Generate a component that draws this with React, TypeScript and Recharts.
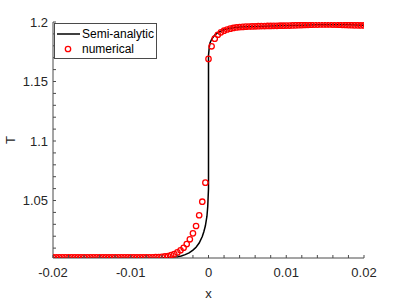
import React from 'react';
import { ComposedChart, Line, Scatter, XAxis, YAxis, Legend, Label } from 'recharts';

// numerical solution (red circles)
const numX = [
  -0.02, -0.0196, -0.0192, -0.0188, -0.0184, -0.018, -0.0176, -0.0172, -0.0168, -0.0164,
  -0.016, -0.0156, -0.0152, -0.0148, -0.0144, -0.014, -0.0136, -0.0132, -0.0128, -0.0124,
  -0.012, -0.0116, -0.0112, -0.0108, -0.0104, -0.01, -0.0096, -0.0092, -0.0088, -0.0084,
  -0.008, -0.0076, -0.0072, -0.0068, -0.0064, -0.006, -0.0056, -0.0052, -0.0048, -0.0044,
  -0.004, -0.0036, -0.0032, -0.0028, -0.0024, -0.002, -0.0016, -0.0012, -0.0008, -0.0004,
  0,
  0.0004, 0.0008, 0.0012, 0.0016, 0.002, 0.0024, 0.0028, 0.0032, 0.0036, 0.004,
  0.0044, 0.0048, 0.0052, 0.0056, 0.006, 0.0064, 0.0068, 0.0072, 0.0076, 0.008,
  0.0084, 0.0088, 0.0092, 0.0096, 0.01, 0.0104, 0.0108, 0.0112, 0.0116, 0.012,
  0.0124, 0.0128, 0.0132, 0.0136, 0.014, 0.0144, 0.0148, 0.0152, 0.0156, 0.016,
  0.0164, 0.0168, 0.0172, 0.0176, 0.018, 0.0184, 0.0188, 0.0192, 0.0196, 0.02,
];
const numT = [
  1.0022, 1.0022, 1.0022, 1.0022, 1.0022, 1.0022, 1.0022, 1.0022, 1.0022, 1.0022,
  1.0022, 1.0022, 1.0022, 1.0022, 1.0022, 1.0022, 1.0022, 1.0022, 1.0022, 1.0022,
  1.0022, 1.0022, 1.0022, 1.0022, 1.0022, 1.0022, 1.0022, 1.0022, 1.0022, 1.0023,
  1.0023, 1.0023, 1.0023, 1.0024, 1.0025, 1.0027, 1.003, 1.0034, 1.0042, 1.005,
  1.0064, 1.0082, 1.0103, 1.0134, 1.0174, 1.0224, 1.0286, 1.0376, 1.049, 1.065,
  1.169,
  1.1796, 1.186, 1.1893, 1.1913, 1.1927, 1.1937, 1.1944, 1.195, 1.1954, 1.1957,
  1.1959, 1.1961, 1.1962, 1.1963, 1.1964, 1.1965, 1.1966, 1.1966, 1.1967, 1.1967,
  1.1968, 1.1968, 1.1969, 1.1969, 1.197, 1.197, 1.1971, 1.1972, 1.1973, 1.1974,
  1.1975, 1.1976, 1.1977, 1.1978, 1.1978, 1.1979, 1.1979, 1.1979, 1.1979, 1.1978,
  1.1978, 1.1977, 1.1976, 1.1975, 1.1974, 1.1973, 1.1972, 1.1972, 1.1971, 1.1971,
];

// semi-analytic solution (black line)
const anaX = [
  -0.02, -0.008, -0.006, -0.005, -0.004, -0.0035, -0.003, -0.0025, -0.002, -0.0016,
  -0.0012, -0.0008, -0.0006, -0.0004, -0.0002, -0.0001, 0,
  0, 0.0001, 0.0002, 0.0004, 0.0008, 0.0012, 0.002, 0.003, 0.004, 0.006, 0.008,
  0.01, 0.012, 0.014, 0.016, 0.018, 0.02,
];
const anaT = [
  1.0017, 1.0017, 1.0019, 1.0022, 1.0028, 1.0034, 1.0045, 1.006, 1.0083, 1.0108,
  1.0143, 1.0198, 1.0238, 1.0288, 1.0368, 1.0448, 1.06,
  1.172, 1.179, 1.1825, 1.1855, 1.189, 1.191, 1.1935, 1.195, 1.1957, 1.1963, 1.1967,
  1.197, 1.1973, 1.1977, 1.1979, 1.1977, 1.1973,
];

const seriesNames = ['Semi-analytic', 'numerical'];

const xMajorTicks = [-0.02, -0.01, 0, 0.01, 0.02];
const xTickLabels = ['-0.02', '-0.01', '0', '0.01', '0.02'];
const xMinorTicks = [
  -0.018, -0.016, -0.014, -0.012, -0.008, -0.006, -0.004, -0.002,
  0.002, 0.004, 0.006, 0.008, 0.012, 0.014, 0.016, 0.018,
];
const yMajorTicks = [1.05, 1.1, 1.15, 1.2];
const yTickLabels = ['1.05', '1.1', '1.15', '1.2'];
const yMinorTicks = [
  1.01, 1.02, 1.03, 1.04, 1.06, 1.07, 1.08, 1.09, 1.11, 1.12, 1.13, 1.14,
  1.16, 1.17, 1.18, 1.19,
];
const xDomain = [-0.02, 0.02];
const yDomain = [1.0017, 1.2];

const anaData = anaX.map((x, i) => ({ x, T: anaT[i] }));
const numData = numX.map((x, i) => ({ x, T: numT[i] }));
const xAllTicks = [...xMajorTicks, ...xMinorTicks].sort((a, b) => a - b);
const yAllTicks = [...yMajorTicks, ...yMinorTicks].sort((a, b) => a - b);

const FONT = '"Liberation Sans", Arial, Helvetica, sans-serif';
const TXT = '#262626';
const AX = '#4a4a4a';
const TL = 3;
const XM = 10;
const YM = 5;

const findIdx = (arr: number[], v: number) => arr.findIndex((m) => Math.abs(m - v) < 1e-9);

const BottomTick = (p: any) => {
  const { x, y, payload } = p;
  const ay = y - XM;
  const idx = findIdx(xMajorTicks, payload.value);
  return (
    <g>
      <line x1={x} x2={x} y1={ay} y2={ay - TL} stroke={AX} strokeWidth={1} />
      {idx >= 0 && (
        <text x={x} y={y} dy="0.71em" textAnchor="middle" fill={TXT} fontSize={13} fontFamily={FONT}>
          {xTickLabels[idx]}
        </text>
      )}
    </g>
  );
};

const TopTick = (p: any) => {
  const { x, y } = p;
  return <line x1={x} x2={x} y1={y} y2={y + TL} stroke={AX} strokeWidth={1} />;
};

const LeftTick = (p: any) => {
  const { x, y, payload } = p;
  const ax = x + YM;
  const idx = findIdx(yMajorTicks, payload.value);
  return (
    <g>
      <line x1={ax} x2={ax + TL} y1={y} y2={y} stroke={AX} strokeWidth={1} />
      {idx >= 0 && (
        <text x={x} y={y} dy="0.355em" textAnchor="end" fill={TXT} fontSize={13} fontFamily={FONT}>
          {yTickLabels[idx]}
        </text>
      )}
    </g>
  );
};

const RightTick = (p: any) => {
  const { x, y } = p;
  return <line x1={x} x2={x - TL} y1={y} y2={y} stroke={AX} strokeWidth={1} />;
};

const Circle = (p: any) => {
  const { cx, cy } = p;
  if (cx == null || cy == null) return null;
  return <circle cx={cx} cy={cy} r={2.7} fill="none" stroke="#ff0000" strokeWidth={1.3} />;
};

const XLabel = (p: any) => {
  const vb = p.viewBox || { x: 53, y: 258, width: 311, height: 30 };
  return (
    <text x={vb.x + vb.width / 2} y={vb.y + 35.5} textAnchor="middle" dominantBaseline="central"
      fill={TXT} fontSize={13} fontFamily={FONT}>x</text>
  );
};

const YLabel = (p: any) => {
  const vb = p.viewBox || { x: 8, y: 22, width: 45, height: 236 };
  const cx = vb.x + 2;
  const cy = vb.y + vb.height / 2;
  return (
    <text x={cx} y={cy} textAnchor="middle" dominantBaseline="central" transform={`rotate(-90, ${cx}, ${cy})`}
      fill={TXT} fontSize={13} fontFamily={FONT}>T</text>
  );
};

const LegendBox = () => (
  <svg width={103} height={36} style={{ display: 'block' }}>
    <rect x={0.5} y={0.5} width={102} height={35} fill="#fff" stroke={AX} strokeWidth={1} />
    <line x1={3} x2={26} y1={11} y2={11} stroke="#000" strokeWidth={1.5} />
    <text x={28} y={15} fill="#000" fontSize={12} fontFamily={FONT}>{seriesNames[0]}</text>
    <circle cx={14} cy={26} r={2.7} fill="none" stroke="#ff0000" strokeWidth={1.3} />
    <text x={28} y={30} fill="#000" fontSize={12} fontFamily={FONT}>{seriesNames[1]}</text>
  </svg>
);

export default function App() {
  return (
    <div style={{ position: 'absolute', left: 0, top: 0, width: 402, height: 301, background: '#fff' }}>
      <ComposedChart width={402} height={301} margin={{ top: 22, right: 38, bottom: 13, left: 8 }}>
        <XAxis xAxisId="b" type="number" dataKey="x" domain={xDomain} ticks={xAllTicks} interval={0}
          allowDataOverflow orientation="bottom" height={30} tickSize={0} tickMargin={XM} tickLine={false}
          axisLine={{ stroke: AX, strokeWidth: 1 }} tick={<BottomTick />}>
          <Label content={<XLabel />} />
        </XAxis>
        <XAxis xAxisId="t" type="number" dataKey="x" domain={xDomain} ticks={xAllTicks} interval={0}
          allowDataOverflow orientation="top" height={0} tickSize={0} tickMargin={0} tickLine={false}
          axisLine={{ stroke: AX, strokeWidth: 1 }} tick={<TopTick />} />
        <YAxis yAxisId="l" type="number" dataKey="T" domain={yDomain} ticks={yAllTicks} interval={0}
          allowDataOverflow orientation="left" width={45} tickSize={0} tickMargin={YM} tickLine={false}
          axisLine={{ stroke: AX, strokeWidth: 1 }} tick={<LeftTick />}>
          <Label content={<YLabel />} />
        </YAxis>
        <YAxis yAxisId="r" type="number" dataKey="T" domain={yDomain} ticks={yAllTicks} interval={0}
          allowDataOverflow orientation="right" width={0} tickSize={0} tickMargin={0} tickLine={false}
          axisLine={{ stroke: AX, strokeWidth: 1 }} tick={<RightTick />} />
        <Line xAxisId="b" yAxisId="l" data={anaData} dataKey="T" name={seriesNames[0]} type="linear"
          stroke="#000" strokeWidth={1.5} dot={false} activeDot={false} isAnimationActive={false} />
        <Scatter xAxisId="b" yAxisId="l" data={numData} dataKey="T" name={seriesNames[1]}
          shape={<Circle />} isAnimationActive={false} />
        <Legend layout="horizontal" verticalAlign="middle" align="center" content={<LegendBox />}
          wrapperStyle={{ position: 'absolute', left: 54, top: 23, width: 'auto', height: 'auto' }} />
      </ComposedChart>
    </div>
  );
}
